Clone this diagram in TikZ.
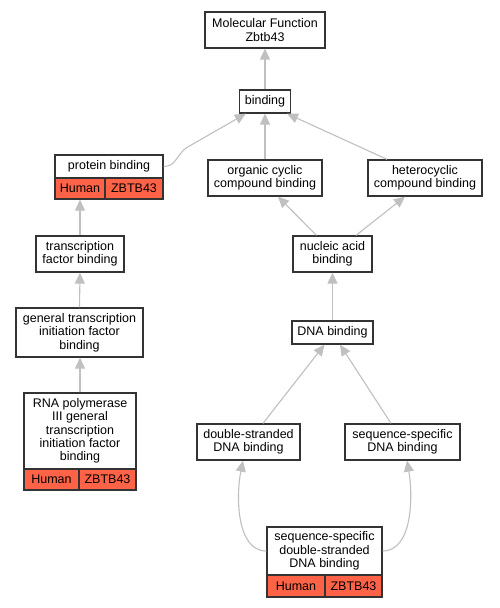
\documentclass[tikz,border=0pt]{standalone}
\usepackage{fontspec}
\setmainfont{Liberation Sans}
\usetikzlibrary{arrows.meta}
\definecolor{boxc}{HTML}{333333}
\definecolor{edgec}{HTML}{C0C0C0}
\definecolor{hum}{HTML}{FF6347}
\newcommand{\lab}{\fontsize{12.5}{13.3}\selectfont}
\tikzset{
  box/.style={draw=boxc, line width=1.3pt, fill=white, inner sep=0pt, align=center, font=\lab},
  cell/.style={draw=boxc, line width=1.3pt, fill=hum, inner sep=0pt, align=center, font=\lab},
  edge/.style={draw=edgec, line width=1.1pt, -{Triangle[length=11pt,width=10pt]}}
}
\begin{document}
\begin{tikzpicture}[x=1pt,y=-1pt]
\fill[white] (0,0) rectangle (499,608);
\useasboundingbox (0,0) rectangle (499,608);
% nodes
\node[box, minimum width=120pt, minimum height=36pt] (mf) at (265,30) {Molecular Function\\Zbtb43};
\node[box, minimum width=51pt, minimum height=23pt] (bind) at (265,101.5) {binding};
\node[box, minimum width=108pt, minimum height=23pt] (prot) at (109,166.5) {protein binding};
\node[cell, minimum width=50pt, minimum height=21pt] (protH) at (80,188.5) {Human};
\node[cell, minimum width=58pt, minimum height=21pt] (protG) at (134,188.5) {ZBTB43};
\node[box, minimum width=114pt, minimum height=36pt] (org) at (265,178) {organic cyclic\\compound binding};
\node[box, minimum width=114pt, minimum height=36pt] (het) at (425,178) {heterocyclic\\compound binding};
\node[box, minimum width=88pt, minimum height=36pt] (tf) at (80,254) {transcription\\factor binding};
\node[box, minimum width=127pt, minimum height=49pt] (gt) at (79.5,332.5) {general transcription\\initiation factor\\binding};
\node[box, minimum width=112pt, minimum height=76pt] (rna) at (80,431) {RNA polymerase\\III general\\transcription\\initiation factor\\binding};
\node[cell, minimum width=55pt, minimum height=21pt] (rnaH) at (51.5,479.5) {Human};
\node[cell, minimum width=57pt, minimum height=21pt] (rnaG) at (107.5,479.5) {ZBTB43};
\node[box, minimum width=79pt, minimum height=36pt] (nuc) at (332.5,254) {nucleic acid\\binding};
\node[box, minimum width=81pt, minimum height=23pt] (dna) at (332.5,332.5) {DNA binding};
\node[box, minimum width=103pt, minimum height=36pt] (ds) at (248.5,442) {double-stranded\\DNA binding};
\node[box, minimum width=115pt, minimum height=36pt] (ss) at (402.5,442) {sequence-specific\\DNA binding};
\node[box, minimum width=115pt, minimum height=48pt] (ssds) at (324.5,551) {sequence-specific\\double-stranded\\DNA binding};
\node[cell, minimum width=58pt, minimum height=22pt] (ssdsH) at (296,586) {Human};
\node[cell, minimum width=57pt, minimum height=22pt] (ssdsG) at (353.5,586) {ZBTB43};
% edges
\draw[edge] (bind.north) -- (mf.south);
\draw[edge] (org.north) -- (bind.south);
\draw[edge] ([xshift=-38pt]het.north) -- ([xshift=22pt]bind.south);
\draw[edge] (prot.east) .. controls +(12,0) and +(-10,8) .. (186,148) -- ([xshift=7pt]bind.south west);
\draw[edge] (tf.north) -- (protH.south);
\draw[edge] (gt.north) -- (tf.south);
\draw[edge] (rna.north) -- ([xshift=0.5pt]gt.south);
\draw[edge] ([xshift=-16pt]nuc.north) -- ([xshift=13pt]org.south);
\draw[edge] ([xshift=23.5pt]nuc.north) -- ([xshift=-20pt]het.south);
\draw[edge] (dna.north) -- (nuc.south);
\draw[edge] ([xshift=14.5pt]ds.north) -- ([xshift=-8pt]dna.south);
\draw[edge] ([xshift=-11.5pt]ss.north) -- ([xshift=7.5pt]dna.south);
\draw[edge] (ssds.west) .. controls (236,551) and (236,495) .. ([xshift=-5.5pt]ds.south);
\draw[edge] (ssds.east) .. controls (413,551) and (413,495) .. ([xshift=4.5pt]ss.south);
\end{tikzpicture}
\end{document}
